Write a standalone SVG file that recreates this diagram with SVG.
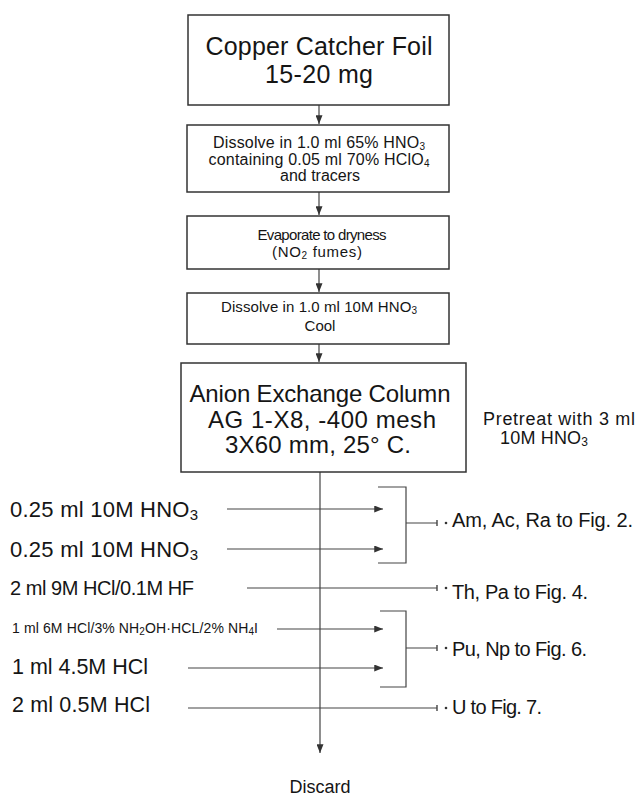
<svg xmlns="http://www.w3.org/2000/svg" width="637" height="796" viewBox="0 0 637 796">
<defs>
<marker id="ah" viewBox="0 0 10 8" refX="10" refY="4" markerWidth="9" markerHeight="7" markerUnits="userSpaceOnUse" orient="auto"><path d="M0,0 L10,4 L0,8 Z" fill="#333"/></marker>
</defs>
<style>
.box{fill:#fff;stroke:#333;stroke-width:1.5}
.t{font-family:"Liberation Sans",Arial,sans-serif;fill:#151515}
.c{text-anchor:middle}
.ln{stroke:#444;stroke-width:1.2;fill:none}
.tk{stroke:#444;stroke-width:1.4}
</style>
<rect width="637" height="796" fill="#fff"/>

<g id="connectors">
<line class="ln" x1="319" y1="105" x2="319" y2="124" marker-end="url(#ah)"/>
<line class="ln" x1="319" y1="192" x2="319" y2="215" marker-end="url(#ah)"/>
<line class="ln" x1="319" y1="269" x2="319" y2="292" marker-end="url(#ah)"/>
<line class="ln" x1="319" y1="344" x2="319" y2="362" marker-end="url(#ah)"/>
<line class="ln" x1="320" y1="472" x2="320" y2="753" marker-end="url(#ah)"/>
<line class="ln" x1="227" y1="509" x2="383" y2="509" marker-end="url(#ah)"/>
<line class="ln" x1="227" y1="549" x2="383" y2="549" marker-end="url(#ah)"/>
<line class="ln" x1="247" y1="588" x2="437" y2="588"/>
<line class="ln" x1="277" y1="629" x2="383" y2="629" marker-end="url(#ah)"/>
<line class="ln" x1="188" y1="668" x2="383" y2="668" marker-end="url(#ah)"/>
<line class="ln" x1="188" y1="708" x2="437" y2="708"/>
<path class="ln" d="M378,487 H406 V563 H378 M406,523 H437"/>
<path class="ln" d="M380,611 H406 V687 H380 M406,648 H437"/>
<line class="tk" x1="437" y1="520" x2="437" y2="526"/>
<line class="tk" x1="437" y1="585" x2="437" y2="591"/>
<line class="tk" x1="437" y1="645" x2="437" y2="651"/>
<line class="tk" x1="437" y1="705" x2="437" y2="711"/>
<circle cx="446" cy="523" r="1.3" fill="#333"/>
<circle cx="446" cy="588" r="1.3" fill="#333"/>
<circle cx="446" cy="648" r="1.3" fill="#333"/>
<circle cx="446" cy="708" r="1.3" fill="#333"/>
</g>

<g id="box1">
<rect class="box" x="188" y="15" width="261" height="90"/>
<text class="t c" x="319" y="55" font-size="25" textLength="227">Copper Catcher Foil</text>
<text class="t c" x="319" y="83" font-size="25" textLength="108">15-20 mg</text>
</g>

<g id="box2">
<rect class="box" x="187" y="125" width="262" height="67"/>
<text class="t c" x="319" y="148" font-size="16" textLength="212">Dissolve in 1.0 ml 65% HNO<tspan font-size="10" dy="2">3</tspan></text>
<text class="t c" x="319" y="165" font-size="16" textLength="221">containing 0.05 ml 70% HClO<tspan font-size="10" dy="2">4</tspan></text>
<text class="t c" x="320" y="181" font-size="16" textLength="80">and tracers</text>
</g>

<g id="box3">
<rect class="box" x="187" y="216" width="262" height="53"/>
<text class="t c" x="322" y="240" font-size="15" textLength="129">Evaporate to dryness</text>
<text class="t c" x="317" y="257" font-size="15" textLength="90">(NO<tspan font-size="10" dy="2">2</tspan><tspan dy="-2"> fumes)</tspan></text>
</g>

<g id="box4">
<rect class="box" x="187" y="293" width="262" height="51"/>
<text class="t c" x="319" y="312" font-size="15" textLength="196">Dissolve in 1.0 ml 10M HNO<tspan font-size="10" dy="1.5">3</tspan></text>
<text class="t c" x="320" y="331" font-size="15">Cool</text>
</g>

<g id="box5">
<rect class="box" x="181" y="363" width="285" height="109"/>
<text class="t c" x="320" y="402" font-size="24" textLength="261">Anion Exchange Column</text>
<text class="t c" x="322" y="428" font-size="24" textLength="228">AG 1-X8, -400 mesh</text>
<text class="t c" x="318" y="453" font-size="24" textLength="186">3X60 mm, 25° C.</text>
</g>

<g id="pretreat">
<text class="t" x="483" y="425" font-size="18" textLength="152">Pretreat with 3 ml</text>
<text class="t" x="500" y="444" font-size="18" textLength="88">10M HNO<tspan font-size="12" dy="2">3</tspan></text>
</g>

<g id="reagents">
<text class="t" x="10" y="517" font-size="22" textLength="188">0.25 ml 10M HNO<tspan font-size="15" dy="3">3</tspan></text>
<text class="t" x="10" y="557" font-size="22" textLength="188">0.25 ml 10M HNO<tspan font-size="15" dy="3">3</tspan></text>
<text class="t" x="10" y="595" font-size="20" textLength="184">2 ml 9M HCl/0.1M HF</text>
<text class="t" x="12" y="633" font-size="14" textLength="246">1 ml 6M HCl/3% NH<tspan font-size="10" dy="2">2</tspan><tspan dy="-2">OH·HCL/2% NH</tspan><tspan font-size="10" dy="2">4</tspan><tspan dy="-2">I</tspan></text>
<text class="t" x="12" y="674" font-size="21.5" textLength="136">1 ml 4.5M HCl</text>
<text class="t" x="12" y="712" font-size="21.5" textLength="138">2 ml 0.5M HCl</text>
</g>

<g id="outputs">
<text class="t" x="452" y="527" font-size="20" textLength="181">Am, Ac, Ra to Fig. 2.</text>
<text class="t" x="452" y="599" font-size="20" textLength="136">Th, Pa to Fig. 4.</text>
<text class="t" x="452" y="656" font-size="20" textLength="135">Pu, Np to Fig. 6.</text>
<text class="t" x="452" y="714" font-size="20" textLength="90">U to Fig. 7.</text>
</g>

<g id="discard">
<text class="t c" x="320" y="793" font-size="18">Discard</text>
</g>
</svg>
